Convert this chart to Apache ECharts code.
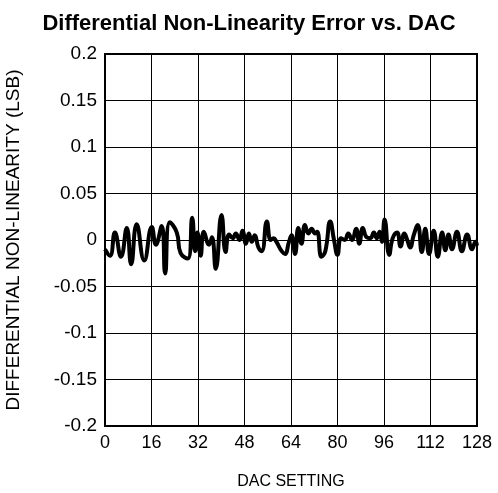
<!DOCTYPE html>
<html>
<head>
<meta charset="utf-8">
<script src="https://cdn.jsdelivr.net/npm/echarts@6/dist/echarts.min.js"></script>
<style>html,body{margin:0;padding:0;background:#fff}#c{width:498px;height:493px}</style>
</head>
<body>
<div id="c"></div>
<script>
var titleText = "Differential Non-Linearity Error vs. DAC";
var xName = "DAC SETTING";
var yName = "DIFFERENTIAL NON-LINEARITY (LSB)";
var dacCodes = [0,1.7,3.4,5.5,7.5,9,10.9,13.5,16.1,17.5,19.5,20.7,22.3,24.7,26,28.5,30,31,31.8,32.9,34,35.8,36.8,38.1,40.1,41.5,42.7,44,45,46.3,47.3,48.5,49.5,50.5,51.5,52.8,53.9,55.7,57,58,59,60.8,62,63.2,64.2,65.4,66.5,67.6,68.8,70,71.1,72.3,73,74.5,75.8,77.5,78.8,80,81.2,82.5,83.7,85,86.4,87.5,88.7,90,91.3,92.5,93.5,94.5,95.3,96.2,97.8,99,100.5,101.7,103,104,105,106.2,107.6,109,110.2,111.5,113.1,114.5,116,117.1,118.2,119.4,121.1,122.8,124.6,126.3,127.5,128];
var dnlValues = [-0.010,-0.017,0.008,-0.018,0.013,-0.026,0.017,-0.022,0.014,-0.005,0.015,-0.036,0.019,0.008,-0.014,-0.020,0.024,-0.012,0.008,-0.017,0.009,-0.005,0.003,-0.031,0.027,-0.013,0.006,0.002,0.007,0,0.010,-0.004,0.007,-0.002,0.005,-0.008,-0.012,0.020,0,0.002,-0.002,-0.012,-0.015,-0.003,0.005,-0.015,0.013,-0.004,0.016,0.007,0.012,0.007,0.009,-0.018,-0.012,0.020,0,-0.016,0.002,0,0.007,0,0.012,-0.004,0.013,0.003,0.002,0.008,0.002,0.009,-0.002,0.022,-0.016,0.002,0.008,-0.007,0.007,0,-0.008,0.005,0.016,-0.013,0.012,-0.015,0.010,-0.018,0.008,-0.011,0.006,-0.010,0.009,-0.012,0.006,-0.010,-0.002,-0.006];

var pts = dacCodes.map(function(x,i){return [x, dnlValues[i]];});
var font = "'Liberation Sans', Arial, Helvetica, sans-serif";
var chart = echarts.init(document.getElementById('c'), null, {renderer:'canvas'});
chart.setOption({
  animation:false,
  backgroundColor:'#fff',
  title:{text:titleText,left:'center',top:8,textStyle:{fontFamily:font,fontSize:22,fontWeight:'bold',color:'#000'}},
  grid:{left:105,right:21,top:54,bottom:67,containLabel:false,outerBoundsMode:'none',show:true,borderColor:'#000',borderWidth:2},
  xAxis:{type:'value',min:0,max:128,interval:16,
    name:xName,nameLocation:'middle',nameGap:48,
    nameTextStyle:{fontFamily:font,fontSize:16,color:'#000'},
    axisLine:{show:false},axisTick:{show:false},
    axisLabel:{fontFamily:font,fontSize:18,color:'#000',margin:8},
    splitLine:{show:true,lineStyle:{color:'#000',width:1}}},
  yAxis:{type:'value',min:-0.2,max:0.2,interval:0.05,
    name:yName,nameLocation:'middle',nameGap:82,
    nameTextStyle:{fontFamily:font,fontSize:19,color:'#000'},
    axisLine:{show:false},axisTick:{show:false},
    axisLabel:{fontFamily:font,fontSize:19,color:'#000',margin:8,
      formatter:function(v){return String(parseFloat(v.toFixed(2)));}},
    splitLine:{show:true,lineStyle:{color:'#000',width:1}}},
  series:[{type:'line',data:pts,smooth:0.5,symbol:'none',
    lineStyle:{color:'#000',width:4}}]
});
</script>
</body>
</html>
